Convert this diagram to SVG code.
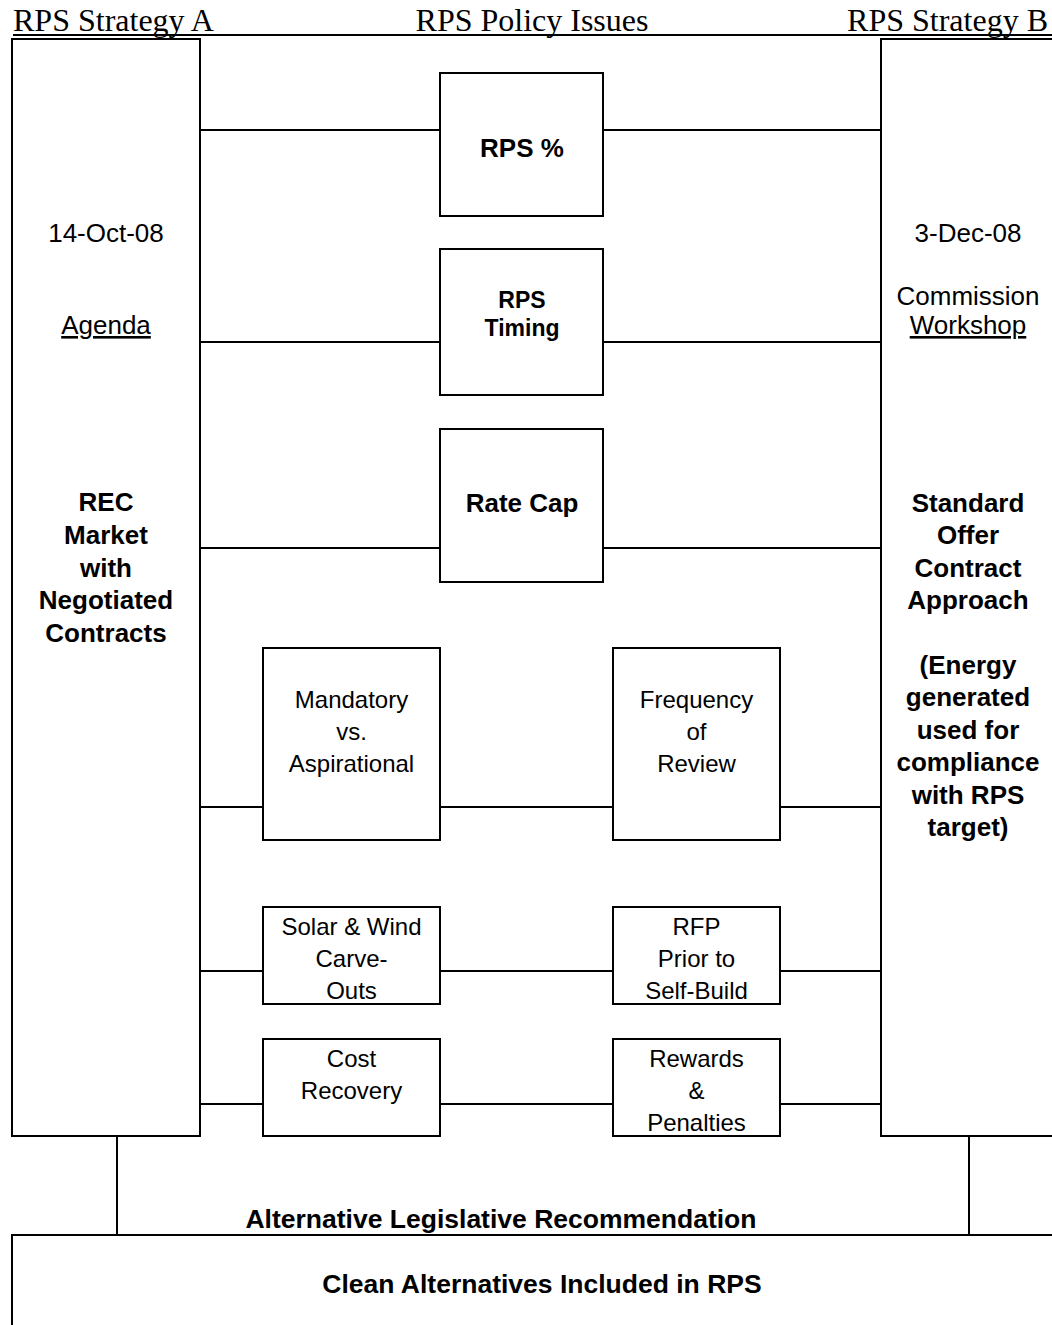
<svg xmlns="http://www.w3.org/2000/svg" width="1052" height="1325" viewBox="0 0 1052 1325">
<style>
.box{fill:#fff;stroke:#000;stroke-width:2}
.ln{stroke:#000;stroke-width:2;fill:none}
.hd{font-family:"Liberation Serif","Times New Roman",serif;font-size:32px;fill:#000}
.r{font-family:"Liberation Sans",Arial,sans-serif;font-size:24px;fill:#000;text-anchor:middle}
.rc{font-family:"Liberation Sans",Arial,sans-serif;font-size:26px;fill:#000;text-anchor:middle}
.b{font-family:"Liberation Sans",Arial,sans-serif;font-size:26px;font-weight:bold;fill:#000;text-anchor:middle}
.bl{font-family:"Liberation Sans",Arial,sans-serif;font-size:26.5px;font-weight:bold;fill:#000;text-anchor:middle}
.bs{font-family:"Liberation Sans",Arial,sans-serif;font-size:23px;font-weight:bold;fill:#000;text-anchor:middle}
.u{text-decoration:underline}
</style>
<rect width="1052" height="1325" fill="#fff"/>
<g id="headers">
<text class="hd" x="13" y="31">RPS Strategy A</text>
<text class="hd" x="532" y="31" text-anchor="middle">RPS Policy Issues</text>
<text class="hd" x="1048" y="31" text-anchor="end">RPS Strategy B</text>
<line class="ln" x1="13" y1="35" x2="1052" y2="35"/>
</g>
<g id="connectors">
<line class="ln" x1="200" y1="130" x2="440" y2="130"/>
<line class="ln" x1="603" y1="130" x2="881" y2="130"/>
<line class="ln" x1="200" y1="342" x2="440" y2="342"/>
<line class="ln" x1="603" y1="342" x2="881" y2="342"/>
<line class="ln" x1="200" y1="548" x2="440" y2="548"/>
<line class="ln" x1="603" y1="548" x2="881" y2="548"/>
<line class="ln" x1="200" y1="807" x2="263" y2="807"/>
<line class="ln" x1="440" y1="807" x2="613" y2="807"/>
<line class="ln" x1="780" y1="807" x2="881" y2="807"/>
<line class="ln" x1="200" y1="971" x2="263" y2="971"/>
<line class="ln" x1="440" y1="971" x2="613" y2="971"/>
<line class="ln" x1="780" y1="971" x2="881" y2="971"/>
<line class="ln" x1="200" y1="1104" x2="263" y2="1104"/>
<line class="ln" x1="440" y1="1104" x2="613" y2="1104"/>
<line class="ln" x1="780" y1="1104" x2="881" y2="1104"/>
<line class="ln" x1="117" y1="1137" x2="117" y2="1235"/>
<line class="ln" x1="969" y1="1137" x2="969" y2="1235"/>
</g>
<g id="strategyA">
<rect class="box" x="12" y="39" width="188" height="1097"/>
<text class="rc" x="106" y="242">14-Oct-08</text>
<text class="rc u" x="106" y="334">Agenda</text>
<text class="b" x="106" y="511">REC</text>
<text class="b" x="106" y="543.7">Market</text>
<text class="b" x="106" y="576.5">with</text>
<text class="b" x="106" y="609.2">Negotiated</text>
<text class="b" x="106" y="642">Contracts</text>
</g>
<g id="strategyB">
<rect class="box" x="881" y="39" width="180" height="1097"/>
<text class="rc" x="968" y="242">3-Dec-08</text>
<text class="rc" x="968" y="305">Commission</text>
<text class="rc u" x="968" y="334">Workshop</text>
<text class="b" x="968" y="512">Standard</text>
<text class="b" x="968" y="544.4">Offer</text>
<text class="b" x="968" y="576.8">Contract</text>
<text class="b" x="968" y="609.2">Approach</text>
<text class="b" x="968" y="674">(Energy</text>
<text class="b" x="968" y="706.4">generated</text>
<text class="b" x="968" y="738.8">used for</text>
<text class="b" x="968" y="771.2">compliance</text>
<text class="b" x="968" y="803.6">with RPS</text>
<text class="b" x="968" y="836">target)</text>
</g>
<g id="rpsPercent">
<rect class="box" x="440" y="73" width="163" height="143"/>
<text class="b" x="522" y="157">RPS %</text>
</g>
<g id="rpsTiming">
<rect class="box" x="440" y="249" width="163" height="146"/>
<text class="bs" x="522" y="308">RPS</text>
<text class="bs" x="522" y="336">Timing</text>
</g>
<g id="rateCap">
<rect class="box" x="440" y="429" width="163" height="153"/>
<text class="b" x="522" y="512">Rate Cap</text>
</g>
<g id="mandatory">
<rect class="box" x="263" y="648" width="177" height="192"/>
<text class="r" x="351.5" y="707.6">Mandatory</text>
<text class="r" x="351.5" y="739.6">vs.</text>
<text class="r" x="351.5" y="771.6">Aspirational</text>
</g>
<g id="frequency">
<rect class="box" x="613" y="648" width="167" height="192"/>
<text class="r" x="696.5" y="707.6">Frequency</text>
<text class="r" x="696.5" y="739.6">of</text>
<text class="r" x="696.5" y="771.6">Review</text>
</g>
<g id="carveOuts">
<rect class="box" x="263" y="907" width="177" height="97"/>
<text class="r" x="351.5" y="934.6">Solar &amp; Wind</text>
<text class="r" x="351.5" y="966.6">Carve-</text>
<text class="r" x="351.5" y="998.6">Outs</text>
</g>
<g id="rfp">
<rect class="box" x="613" y="907" width="167" height="97"/>
<text class="r" x="696.5" y="934.6">RFP</text>
<text class="r" x="696.5" y="966.6">Prior to</text>
<text class="r" x="696.5" y="998.6">Self-Build</text>
</g>
<g id="costRecovery">
<rect class="box" x="263" y="1039" width="177" height="97"/>
<text class="r" x="351.5" y="1066.6">Cost</text>
<text class="r" x="351.5" y="1098.6">Recovery</text>
</g>
<g id="rewards">
<rect class="box" x="613" y="1039" width="167" height="97"/>
<text class="r" x="696.5" y="1066.6">Rewards</text>
<text class="r" x="696.5" y="1098.6">&amp;</text>
<text class="r" x="696.5" y="1130.6">Penalties</text>
</g>
<g id="altRecommendation">
<text class="bl" x="501" y="1228">Alternative Legislative Recommendation</text>
</g>
<g id="cleanAlternatives">
<rect class="box" x="12" y="1235" width="1050" height="110"/>
<text class="bl" x="542" y="1293">Clean Alternatives Included in RPS</text>
</g>
</svg>
